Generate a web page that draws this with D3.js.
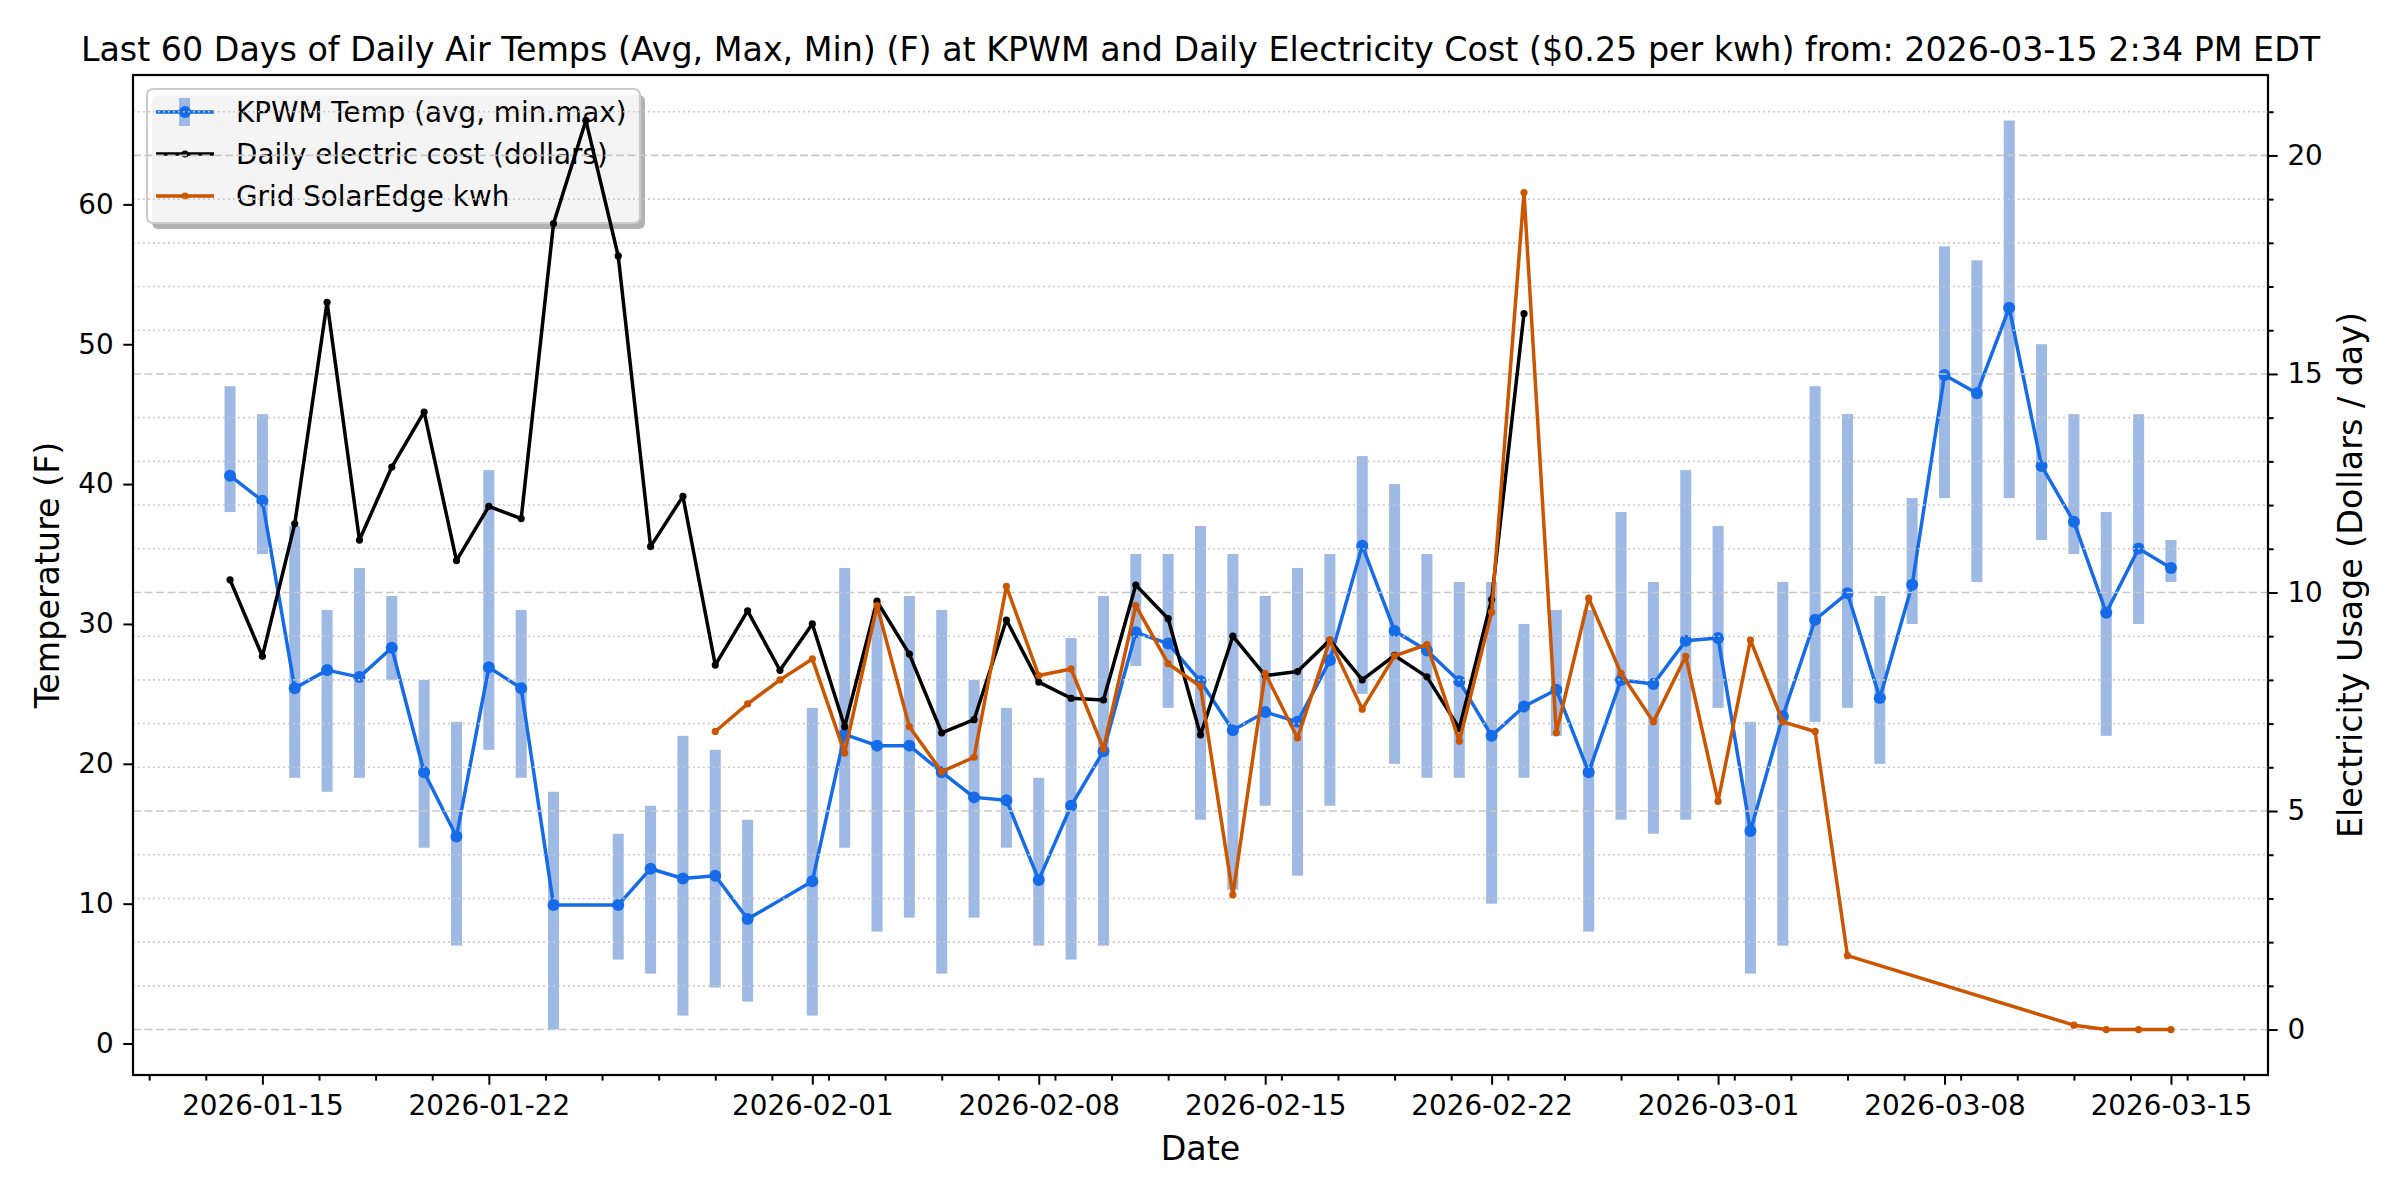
<!DOCTYPE html>
<html>
<head>
<meta charset="utf-8">
<script src="https://cdn.jsdelivr.net/npm/d3@7"></script>
<style>
  body { margin: 0; background: #ffffff; }
  text { font-family: "DejaVu Sans", sans-serif; fill: #000; }
</style>
</head>
<body>
<div id="chart"></div>
<script>
"use strict"

// KPWM daily air temps (F): avg with min/max bars (no reading on 01-25 and 01-31)
var tempDates = ["2026-01-14","2026-01-15","2026-01-16","2026-01-17","2026-01-18","2026-01-19","2026-01-20",
  "2026-01-21","2026-01-22","2026-01-23","2026-01-24","2026-01-26","2026-01-27","2026-01-28","2026-01-29",
  "2026-01-30","2026-02-01","2026-02-02","2026-02-03","2026-02-04","2026-02-05","2026-02-06","2026-02-07",
  "2026-02-08","2026-02-09","2026-02-10","2026-02-11","2026-02-12","2026-02-13","2026-02-14","2026-02-15",
  "2026-02-16","2026-02-17","2026-02-18","2026-02-19","2026-02-20","2026-02-21","2026-02-22","2026-02-23",
  "2026-02-24","2026-02-25","2026-02-26","2026-02-27","2026-02-28","2026-03-01","2026-03-02","2026-03-03",
  "2026-03-04","2026-03-05","2026-03-06","2026-03-07","2026-03-08","2026-03-09","2026-03-10","2026-03-11",
  "2026-03-12","2026-03-13","2026-03-14","2026-03-15"];
var tempAvg = [40.6,38.8,25.4,26.7,26.2,28.3,19.4,14.8,26.9,25.4,9.9,9.9,12.5,11.8,12.0,
  8.9,11.6,22.1,21.3,21.3,19.4,17.6,17.4,11.7,17.0,20.9,29.4,28.6,25.9,22.4,23.7,
  23.0,27.4,35.6,29.5,28.1,25.9,22.0,24.1,25.3,19.4,26.0,25.7,28.8,29.0,15.2,23.4,
  30.3,32.2,24.7,32.8,47.8,46.5,52.6,41.3,37.3,30.8,35.4,34.0];
var tempMin = [38,35,19,18,19,26,14,7,21,19,1,6,5,2,4,
  3,2,14,8,9,5,9,14,7,6,7,27,24,16,11,17,
  12,17,25,20,19,19,10,19,22,8,16,15,16,24,5,7,
  23,24,20,30,39,33,39,36,35,22,30,33];
var tempMax = [47,45,37,31,34,32,26,23,41,31,18,15,17,22,21,
  16,24,34,31,32,31,26,24,19,29,32,35,35,37,35,32,
  34,35,42,40,35,33,33,30,31,31,38,33,41,37,23,33,
  47,45,32,39,57,56,66,50,45,38,45,36];

// daily electric cost (dollars)
var costDates = ["2026-01-14","2026-01-15","2026-01-16","2026-01-17","2026-01-18","2026-01-19","2026-01-20",
  "2026-01-21","2026-01-22","2026-01-23","2026-01-24","2026-01-25","2026-01-26","2026-01-27","2026-01-28",
  "2026-01-29","2026-01-30","2026-01-31","2026-02-01","2026-02-02","2026-02-03","2026-02-04","2026-02-05",
  "2026-02-06","2026-02-07","2026-02-08","2026-02-09","2026-02-10","2026-02-11","2026-02-12","2026-02-13",
  "2026-02-14","2026-02-15","2026-02-16","2026-02-17","2026-02-18","2026-02-19","2026-02-20","2026-02-21",
  "2026-02-22","2026-02-23"];
var costValues = [10.29,8.54,11.57,16.64,11.2,12.87,14.13,10.73,11.97,11.69,18.44,20.8,17.7,11.05,12.2,
  8.34,9.58,8.22,9.28,6.93,9.8,8.59,6.79,7.09,9.37,7.95,7.58,7.54,10.17,9.4,6.74,
  9.0,8.1,8.19,8.91,8.0,8.56,8.07,6.89,9.84,16.38];

// grid SolarEdge kwh (gap 03-06 .. 03-11)
var solarDates = ["2026-01-29","2026-01-30","2026-01-31","2026-02-01","2026-02-02","2026-02-03","2026-02-04",
  "2026-02-05","2026-02-06","2026-02-07","2026-02-08","2026-02-09","2026-02-10","2026-02-11","2026-02-12",
  "2026-02-13","2026-02-14","2026-02-15","2026-02-16","2026-02-17","2026-02-18","2026-02-19","2026-02-20",
  "2026-02-21","2026-02-22","2026-02-23","2026-02-24","2026-02-25","2026-02-26","2026-02-27","2026-02-28",
  "2026-03-01","2026-03-02","2026-03-03","2026-03-04","2026-03-05","2026-03-12","2026-03-13","2026-03-14",
  "2026-03-15"];
var solarValues = [6.82,7.45,8.0,8.48,6.33,9.7,6.93,5.9,6.23,10.14,8.1,8.25,6.42,9.7,8.37,
  7.85,3.08,8.15,6.67,8.91,7.33,8.55,8.81,6.6,9.55,19.15,6.79,9.87,8.15,7.04,8.54,
  5.22,8.91,7.04,6.82,1.69,0.1,0,0,0];

var xTickLabels = ["2026-01-15","2026-01-22","2026-02-01","2026-02-08","2026-02-15",
  "2026-02-22","2026-03-01","2026-03-08","2026-03-15"];
var tempTicks = [0,10,20,30,40,50,60];
var costTicks = [0,5,10,15,20];
var legendLabels = ["KPWM Temp (avg, min.max)","Daily electric cost (dollars)","Grid SolarEdge kwh"];
var titleText = "Last 60 Days of Daily Air Temps (Avg, Max, Min) (F) at KPWM and Daily Electricity Cost ($0.25 per kwh) from: 2026-03-15 2:34 PM EDT";

var W = 2400, H = 1200,
    plotLeft = 133, plotRight = 2268, plotTop = 75, plotBottom = 1075;

var blue = "#166ce8", barBlue = "#9eb9e4", orange = "#cc5500", gridGrey = "#c8c8c8";
var lineW = 3.5;

var parse = d3.utcParse("%Y-%m-%d");

var x = d3.scaleUtc()
  .domain([parse("2026-01-11"), parse("2026-03-18")])
  .range([plotLeft, plotRight]);
var yT = d3.scaleLinear().domain([-2.25, 69.25]).range([plotBottom, plotTop]);
var yC = d3.scaleLinear().domain([-1.04, 21.84]).range([plotBottom, plotTop]);

var svg = d3.select("#chart").append("svg")
  .attr("width", W)
  .attr("height", H);

svg.append("rect").attr("width", W).attr("height", H).attr("fill", "#fff");

var temps = tempDates.map(function(d, i){
  return {date: parse(d), avg: tempAvg[i], lo: tempMin[i], hi: tempMax[i]};
});
var costs = costDates.map(function(d, i){ return {date: parse(d), v: costValues[i]}; });
var solar = solarDates.map(function(d, i){ return {date: parse(d), v: solarValues[i]}; });

// ---- temperature axis (ax1) ----
var ax1 = svg.append("g");

ax1.selectAll("rect.bar")
  .data(temps)
  .enter().append("rect")
  .attr("class", "bar")
  .attr("x", function(d){ return x(d.date) - 5.5; })
  .attr("width", 11)
  .attr("y", function(d){ return yT(d.hi); })
  .attr("height", function(d){ return yT(d.lo) - yT(d.hi); })
  .attr("fill", barBlue);

ax1.append("path")
  .datum(temps)
  .attr("fill", "none")
  .attr("stroke", blue)
  .attr("stroke-width", lineW)
  .attr("stroke-linejoin", "round")
  .attr("d", d3.line().x(function(d){ return x(d.date); }).y(function(d){ return yT(d.avg); }));

ax1.selectAll("circle.avg")
  .data(temps)
  .enter().append("circle")
  .attr("class", "avg")
  .attr("cx", function(d){ return x(d.date); })
  .attr("cy", function(d){ return yT(d.avg); })
  .attr("r", 6)
  .attr("fill", blue);

// legend belongs to ax1, so the twin axis grid and lines draw over it
var lg = ax1.append("g");
lg.append("rect")
  .attr("x", 152).attr("y", 95).attr("width", 493).attr("height", 134)
  .attr("rx", 6).attr("fill", "#000").attr("opacity", 0.3);
lg.append("rect")
  .attr("x", 147).attr("y", 89).attr("width", 493).attr("height", 134)
  .attr("rx", 6).attr("fill", "#fff").attr("fill-opacity", 0.85)
  .attr("stroke", "#cccccc").attr("stroke-width", 2.2);

var rowY = [112, 154, 196];
lg.append("rect").attr("x", 179).attr("y", 98).attr("width", 11).attr("height", 28).attr("fill", barBlue);
[blue, "#000", orange].forEach(function(c, i){
  lg.append("line")
    .attr("x1", 156).attr("x2", 214)
    .attr("y1", rowY[i]).attr("y2", rowY[i])
    .attr("stroke", c).attr("stroke-width", lineW);
  lg.append("circle")
    .attr("cx", 185).attr("cy", rowY[i])
    .attr("r", i == 0 ? 6 : 3.6)
    .attr("fill", c);
  lg.append("text")
    .attr("x", 236).attr("y", rowY[i])
    .attr("dy", "0.36em")
    .style("font-size", "27.8px")
    .text(legendLabels[i]);
});

// ---- cost axis (ax2) ----
var ax2 = svg.append("g");

var costMinor = d3.range(0, 22).filter(function(v){ return v % 5 != 0; });

ax2.selectAll("line.minorgrid")
  .data(costMinor)
  .enter().append("line")
  .attr("x1", plotLeft).attr("x2", plotRight)
  .attr("y1", function(d){ return yC(d); })
  .attr("y2", function(d){ return yC(d); })
  .attr("stroke", gridGrey)
  .attr("stroke-width", 1.6)
  .attr("stroke-dasharray", "1.8,3.2");

ax2.selectAll("line.majorgrid")
  .data(costTicks)
  .enter().append("line")
  .attr("x1", plotLeft).attr("x2", plotRight)
  .attr("y1", function(d){ return yC(d); })
  .attr("y2", function(d){ return yC(d); })
  .attr("stroke", gridGrey)
  .attr("stroke-width", 1.6)
  .attr("stroke-dasharray", "8,3.5");

function drawSeries(data, color){
  ax2.append("path")
    .datum(data)
    .attr("fill", "none")
    .attr("stroke", color)
    .attr("stroke-width", lineW)
    .attr("stroke-linejoin", "round")
    .attr("d", d3.line().x(function(d){ return x(d.date); }).y(function(d){ return yC(d.v); }));
  ax2.append("g").selectAll("circle")
    .data(data)
    .enter().append("circle")
    .attr("cx", function(d){ return x(d.date); })
    .attr("cy", function(d){ return yC(d.v); })
    .attr("r", 3.6)
    .attr("fill", color);
}
drawSeries(costs, "#000");
drawSeries(solar, orange);

// ---- frame and axes ----
svg.append("rect")
  .attr("x", plotLeft).attr("y", plotTop)
  .attr("width", plotRight - plotLeft).attr("height", plotBottom - plotTop)
  .attr("fill", "none").attr("stroke", "#000").attr("stroke-width", 2.2);

function styleAxis(g){
  g.select(".domain").remove();
  g.selectAll(".tick line").attr("stroke", "#000").attr("stroke-width", 2);
  g.selectAll(".tick text").style("font-size", "27.8px").attr("fill", "#000");
}

var majorDates = xTickLabels.map(parse);
var step = 1.75 * 864e5;
var minorDates = d3.range(-3, 40).map(function(k){ return new Date(majorDates[0].getTime() + k * step); })
  .filter(function(d){
    return d >= x.domain()[0] && d <= x.domain()[1] &&
      !majorDates.some(function(m){ return Math.abs(m - d) < 1000; });
  });

svg.append("g")
  .attr("transform", "translate(0," + plotBottom + ")")
  .call(d3.axisBottom(x).tickValues(minorDates).tickSize(5.6).tickFormat(""))
  .call(styleAxis);

svg.append("g")
  .attr("transform", "translate(0," + plotBottom + ")")
  .call(d3.axisBottom(x).tickValues(majorDates).tickSize(9.7).tickPadding(11)
    .tickFormat(d3.utcFormat("%Y-%m-%d")))
  .call(styleAxis);

svg.append("g")
  .attr("transform", "translate(" + plotLeft + ",0)")
  .call(d3.axisLeft(yT).tickValues(tempTicks).tickSize(9.7).tickPadding(9.7))
  .call(styleAxis);

svg.append("g")
  .attr("transform", "translate(" + plotRight + ",0)")
  .call(d3.axisRight(yC).tickValues(costMinor).tickSize(5.6).tickFormat(""))
  .call(styleAxis);

svg.append("g")
  .attr("transform", "translate(" + plotRight + ",0)")
  .call(d3.axisRight(yC).tickValues(costTicks).tickSize(9.7).tickPadding(9.7))
  .call(styleAxis);

// ---- titles ----
svg.append("text")
  .attr("x", (plotLeft + plotRight) / 2).attr("y", 61)
  .attr("text-anchor", "middle")
  .style("font-size", "33.3px")
  .text(titleText);

svg.append("text")
  .attr("x", (plotLeft + plotRight) / 2).attr("y", 1160)
  .attr("text-anchor", "middle")
  .style("font-size", "33.3px")
  .text("Date");

svg.append("text")
  .attr("transform", "translate(59," + (plotTop + plotBottom) / 2 + ") rotate(-90)")
  .attr("text-anchor", "middle")
  .style("font-size", "33.3px")
  .text("Temperature (F)");

svg.append("text")
  .attr("transform", "translate(2362," + (plotTop + plotBottom) / 2 + ") rotate(-90)")
  .attr("text-anchor", "middle")
  .style("font-size", "33.3px")
  .text("Electricity Usage (Dollars / day)");
</script>
</body>
</html>
